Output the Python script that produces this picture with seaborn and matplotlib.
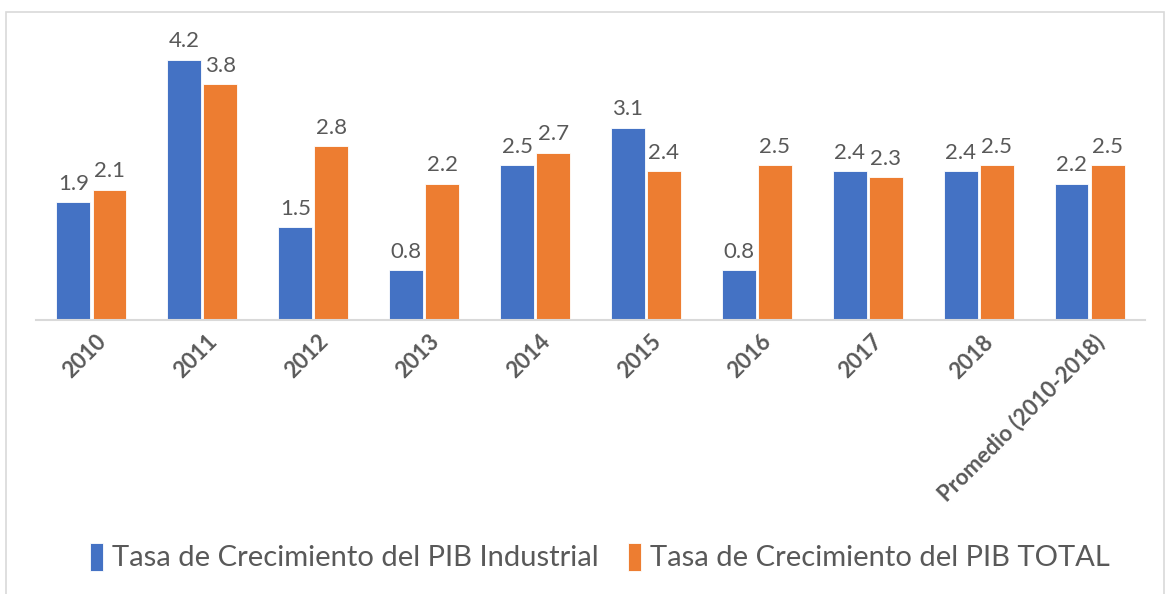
import pandas as pd
import matplotlib.pyplot as plt
import matplotlib.transforms as mtransforms
import seaborn as sns
from matplotlib.patches import Rectangle

YEARS = ["2010", "2011", "2012", "2013", "2014", "2015", "2016", "2017", "2018",
         "Promedio (2010-2018)"]
PIB_INDUSTRIAL = [1.9, 4.2, 1.5, 0.8, 2.5, 3.1, 0.8, 2.4, 2.4, 2.2]
PIB_TOTAL = [2.1, 3.8, 2.8, 2.2, 2.7, 2.4, 2.5, 2.3, 2.5, 2.5]
SERIES = ["Tasa de Crecimiento del PIB Industrial", "Tasa de Crecimiento del PIB TOTAL"]


def main():
    df = pd.DataFrame({
        "year": YEARS * 2,
        "value": PIB_INDUSTRIAL + PIB_TOTAL,
        "serie": [SERIES[0]] * len(YEARS) + [SERIES[1]] * len(YEARS),
    })

    sns.set_theme(style="white")
    plt.rcParams["font.family"] = ["Lato", "DejaVu Sans"]
    palette = {SERIES[0]: "#4472C4", SERIES[1]: "#ED7D31"}
    grey = "#595959"

    fig = plt.figure(figsize=(11.7, 5.94), dpi=100)
    ax = fig.add_axes([36 / 1170, 1 - 320 / 594, 1109 / 1170, 279 / 594])

    sns.barplot(data=df, x="year", y="value", hue="serie", palette=palette,
                width=0.65, gap=0.06, edgecolor="white", linewidth=0.6,
                saturation=1, ax=ax)

    for cont in ax.containers:
        ax.bar_label(cont, fmt="%.1f", padding=6, fontsize=16, color=grey)

    ax.set_ylim(0, 4.5)
    ax.set_xlim(-0.5, len(YEARS) - 0.5)
    ax.set_xlabel("")
    ax.set_ylabel("")
    ax.set_yticks([])
    for side in ["left", "right", "top"]:
        ax.spines[side].set_visible(False)
    ax.spines["bottom"].set_color("#D9D9D9")
    ax.spines["bottom"].set_linewidth(1.5)
    ax.tick_params(axis="x", length=0, pad=8)
    shift = mtransforms.ScaledTranslation(4 / 100, 0, fig.dpi_scale_trans)
    for lbl in ax.get_xticklabels():
        lbl.set(rotation=45, ha="right", rotation_mode="anchor",
                fontsize=16, fontweight="bold", color=grey)
        lbl.set_transform(lbl.get_transform() + shift)

    leg = ax.legend(loc="center", ncol=2, frameon=False, fontsize=21,
                    handlelength=0.45, handleheight=1.1,
                    handletextpad=0.3, columnspacing=1.0)
    leg.set_bbox_to_anchor((0.5 + 15 / 1170, 1 - 557 / 594), transform=fig.transFigure)
    for t in leg.get_texts():
        t.set_color(grey)

    fig.patches.append(Rectangle((6 / 1170, -0.1), 1158 / 1170, 1.1 - 12 / 594,
                                 transform=fig.transFigure, fill=False,
                                 edgecolor="#D9D9D9", linewidth=1.2))

    fig.savefig("out.png", dpi=100)
    plt.close(fig)


if __name__ == "__main__":
    main()
